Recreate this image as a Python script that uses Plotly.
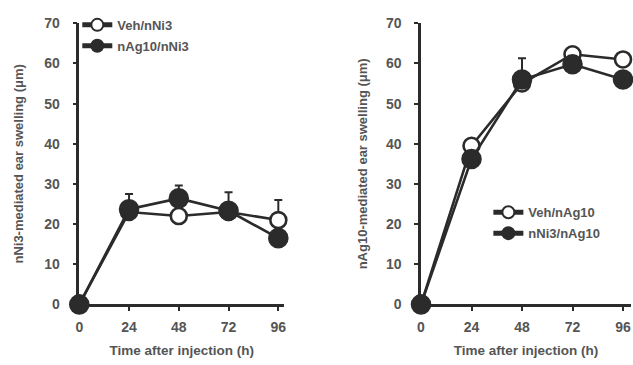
import plotly.graph_objects as go

time_h = [0, 24, 48, 72, 96]
x_ticks = [0, 24, 48, 72, 96]
y_ticks = [0, 10, 20, 30, 40, 50, 60, 70]

# Left panel: nNi3-mediated ear swelling
veh_nni3 = [0, 23, 22, 23, 21]
veh_nni3_err = [0, 0, 0, 0, 5]
nag10_nni3 = [0, 23.7, 26.4, 23.3, 16.5]
nag10_nni3_err = [0, 3.8, 3.2, 4.6, 0]

# Right panel: nAg10-mediated ear swelling
veh_nag10 = [0, 39.5, 55, 62.3, 61]
veh_nag10_err = [0, 0, 0, 0, 0]
nni3_nag10 = [0, 36.2, 56, 59.8, 56]
nni3_nag10_err = [0, 0, 5.3, 0, 0]

DARK = "#2b2b2b"
TXT = "#555555"
FONT = "Liberation Sans"


def series(x, y, err, name, filled, xa, ya, legend):
    return go.Scatter(
        x=x, y=y, name=name, mode="lines+markers",
        xaxis=xa, yaxis=ya, legend=legend, legendgroup=name,
        line=dict(color=DARK, width=2.6),
        marker=dict(size=18 if filled else 16, symbol="circle",
                    color=DARK if filled else "white",
                    line=dict(color=DARK, width=2.6)),
        error_y=dict(type="data", symmetric=False, array=err,
                     arrayminus=[0] * len(err), color=DARK,
                     thickness=2, width=4),
        cliponaxis=False,
    )


fig = go.Figure()
fig.add_trace(series(time_h, veh_nni3, veh_nni3_err, "Veh/nNi3", False, "x", "y", "legend"))
fig.add_trace(series(time_h, nag10_nni3, nag10_nni3_err, "nAg10/nNi3", True, "x", "y", "legend"))
fig.add_trace(series(time_h, veh_nag10, veh_nag10_err, "Veh/nAg10", False, "x2", "y2", "legend2"))
fig.add_trace(series(time_h, nni3_nag10, nni3_nag10_err, "nNi3/nAg10", True, "x2", "y2", "legend2"))

W, H = 633, 365
xax = dict(showgrid=False, zeroline=False, showline=True, linecolor=DARK, linewidth=2.5,
           ticks="outside", ticklen=4, tickwidth=1.5, tickcolor=DARK,
           tickvals=x_ticks, ticklabelstandoff=4,
           tickfont=dict(family=FONT, size=14, color=TXT, weight="bold"),
           title=dict(text="Time after injection (h)", standoff=12,
                      font=dict(family=FONT, size=13.5, color=TXT, weight="bold")))
yax = dict(showgrid=False, zeroline=False, showline=True, linecolor=DARK, linewidth=2.5,
           ticks="outside", ticklen=4, tickwidth=1.5, tickcolor=DARK,
           tickvals=y_ticks, range=[0, 70], ticklabelstandoff=10,
           tickfont=dict(family=FONT, size=14, color=TXT, weight="bold"),
           domain=[(H - 310) / H, (H - 16) / H])

fig.update_layout(
    width=W, height=H, margin=dict(l=0, r=0, t=0, b=0),
    paper_bgcolor="white", plot_bgcolor="white", showlegend=True,
    xaxis=dict(xax, domain=[76 / W, 283 / W], range=[0, 98.9], anchor="y"),
    yaxis=dict(yax, anchor="x",
               title=dict(text="nNi3-mediated ear swelling (μm)", standoff=18,
                          font=dict(family=FONT, size=13, color=TXT, weight="bold"))),
    xaxis2=dict(xax, domain=[421 / W, 1.0], range=[0, 99.8], anchor="y2"),
    yaxis2=dict(yax, anchor="x2",
                title=dict(text="nAg10-mediated ear swelling (μm)", standoff=16,
                           font=dict(family=FONT, size=13, color=TXT, weight="bold"))),
    legend=dict(x=74 / W, y=1 - 2 / H, xanchor="left", yanchor="top",
                bgcolor="rgba(0,0,0,0)", itemsizing="constant", tracegroupgap=1,
                font=dict(family=FONT, size=13, color=TXT, weight="bold")),
    legend2=dict(x=489 / W, y=1 - 198 / H, xanchor="left", yanchor="top",
                 bgcolor="rgba(0,0,0,0)", itemsizing="constant", tracegroupgap=1,
                 font=dict(family=FONT, size=13, color=TXT, weight="bold")),
)

fig.write_html("out.html")
